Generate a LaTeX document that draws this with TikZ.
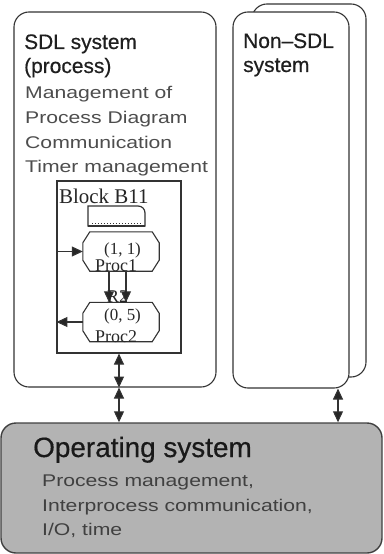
\documentclass[tikz,border=0pt]{standalone}
\usepackage{fontspec}
\usetikzlibrary{arrows.meta}
\newfontfamily\headfont[FakeBold=0.5]{Liberation Sans}
\newfontfamily\notefont[FakeStretch=1.25]{Liberation Sans}
\newfontfamily\sdlfont{Liberation Serif}
\definecolor{edge}{HTML}{333333}
\definecolor{notegray}{HTML}{4D4D4D}
\definecolor{osfill}{HTML}{B3B3B3}

\begin{document}
\begin{tikzpicture}[x=1bp,y=-1bp,
  box/.style={draw=edge, line width=1.1bp, rounded corners=15bp, inner sep=0, fill=white},
  blockbox/.style={draw=edge, line width=1.1bp, inner sep=0},
  procframe/.style={minimum width=76bp, minimum height=39bp, inner sep=0},
  procline/.style={draw=edge, line width=1.1bp},
  head/.style={anchor=base west, inner sep=0, text=black!88,
    font=\headfont\fontsize{21}{25}\selectfont},
  note/.style={anchor=base west, inner sep=0, text=notegray,
    font=\notefont\fontsize{17}{24}\selectfont},
  sdltext/.style={anchor=base west, inner sep=0, text=black!85,
    font=\sdlfont\fontsize{17}{20}\selectfont},
  headtip/.tip={Triangle[length=11bp,width=10bp,fill=black!85]},
  arr/.style={draw=black!80, line width=1.1bp, -headtip},
  dbl/.style={draw=black!80, line width=1.1bp, headtip-headtip}
]
\useasboundingbox (0,0) rectangle (383,554);

% Non-SDL system: a stack of two rounded frames
\node[box, minimum width=114bp, minimum height=373bp] (nsback) at (309,190.5) {};
\node[box, minimum width=116bp, minimum height=376bp] (nsfront) at (291,200) {};
\node[head] (nst1) at (243,48) {Non–SDL};
\node[head] (nst2) at (243,72) {system};

% SDL system frame with its text
\node[box, minimum width=202bp, minimum height=375bp] (sdl) at (115,199.5) {};
\node[head] (st1) at (24,49) {SDL system};
\node[head] (st2) at (24,73) {(process)};
\node[note] (sn1) at (25,99) {Management of};
\node[note] (sn2) at (25,124) {Process Diagram};
\node[note] (sn3) at (25,148.5) {Communication};
\node[note] (sn4) at (25,173) {Timer management};

% Block B11 with its two processes
\node[blockbox, minimum width=124bp, minimum height=172bp] (blk) at (119,267) {};
\node[sdltext, font=\sdlfont\fontsize{21}{24}\selectfont] (blkname) at (59,204) {Block B11};

% text symbol (document with folded corner)
\draw[edge, line width=1.2bp, fill=white] (88,206) -- (138,206) .. controls (142,206) and (145,209) .. (145,213) -- (145,226) -- (88,226) -- cycle;
\draw[edge, line width=2bp] (88,226) -- (145,226);
\draw[edge, line width=1bp, dotted] (92,223) -- (141,223);

% process symbols: octagons drawn round two frames
\node[procframe] (p1) at (121,251.5) {};
\node[procframe] (p2) at (121,322) {};
\foreach \p in {p1,p2}{
  \draw[procline] ([xshift=7bp]\p.north west) -- ([xshift=-7bp]\p.north east)
    -- ([yshift=-11bp]\p.north east) -- ([yshift=11bp]\p.south east)
    -- ([xshift=-7bp]\p.south east) -- ([xshift=7bp]\p.south west)
    -- ([yshift=11bp]\p.south west) -- ([yshift=-11bp]\p.north west) -- cycle;
}
\node[sdltext] (p1a) at (104,254) {(1, 1)};
\node[sdltext, font=\sdlfont\fontsize{18}{20}\selectfont] (p1b) at (95,271) {Proc1};
\node[sdltext] (p2a) at (104,320) {(0, 5)};
\node[sdltext, font=\sdlfont\fontsize{18}{20}\selectfont] (p2b) at (95,342) {Proc2};

% signal routes inside the block
\draw[arr] (blk.west |- p1.west) -- (p1.west);
\draw[arr] (p2.west) -- (blk.west |- p2.west);
\draw[arr] ([xshift=-12bp]p1.south) -- ([xshift=-12bp]p2.north);
\draw[arr] ([xshift=5bp]p1.south) -- ([xshift=5bp]p2.north);
\node[sdltext, font=\sdlfont\fontsize{18}{20}\selectfont] (r2) at (107,302) {R2};

% Operating system
\node[box, fill=osfill, draw=black!75, line width=1.4bp, minimum width=381bp, minimum height=130bp] (os) at (191.5,488) {};
\node[head, text=black!90, font=\headfont\fontsize{28}{32}\selectfont] (ost) at (33,457) {Operating system};
\node[note, text=black!75] (osn1) at (42,486) {Process management,};
\node[note, text=black!75] (osn2) at (42,511) {Interprocess communication,};
\node[note, text=black!75] (osn3) at (42,535) {I/O, time};

% channels between the layers
\draw[dbl] (blk.south) -- (blk.south |- sdl.south);
\draw[dbl] (blk.south |- sdl.south) -- (blk.south |- os.north);
\draw[dbl] ([xshift=47bp]nsfront.south) -- ([xshift=47bp]nsfront.south |- os.north);
\end{tikzpicture}
\end{document}
